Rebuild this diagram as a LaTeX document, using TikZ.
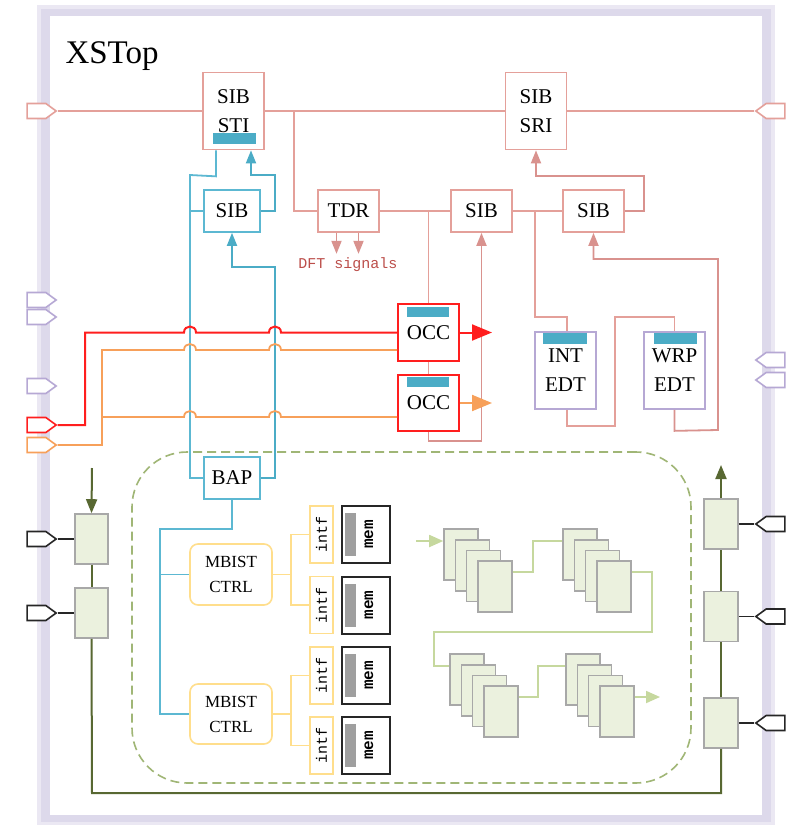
\documentclass[tikz,border=0pt]{standalone}
\usepackage{fontspec}
\setmainfont{Liberation Serif}
\setmonofont{Liberation Mono}
\usetikzlibrary{shapes.symbols, arrows.meta, calc}
\definecolor{framelav}{RGB}{221, 217, 235}
\definecolor{sibred}{RGB}{228, 160, 154}
\definecolor{sibtipred}{RGB}{217, 146, 142}
\definecolor{dftred}{RGB}{188, 78, 74}
\definecolor{barteal}{RGB}{75, 172, 198}
\definecolor{blueline}{RGB}{92, 184, 210}
\definecolor{occred}{RGB}{255, 30, 30}
\definecolor{clkorange}{RGB}{247, 160, 90}
\definecolor{edtpurple}{RGB}{182, 168, 212}
\definecolor{ctrlyellow}{RGB}{255, 222, 140}
\definecolor{cellfill}{RGB}{235, 241, 222}
\definecolor{cellgray}{RGB}{168, 168, 168}
\definecolor{chainlight}{RGB}{198, 216, 158}
\definecolor{scanolive}{RGB}{88, 104, 50}
\definecolor{dashgreen}{RGB}{160, 182, 118}
\newcommand\labelfont{\fontsize{21}{29}\selectfont}
\newcommand\ctrlfont{\fontsize{17}{25}\selectfont}

\begin{document}
\begin{tikzpicture}[x=1pt, y=-1pt,
  sibbox/.style={draw=sibred, line width=1.7pt, fill=white, inner sep=0pt, align=center, font=\labelfont, minimum width=61, minimum height=42},
  bluebox/.style={draw=blueline, line width=1.7pt, fill=white, inner sep=0pt, font=\labelfont, minimum width=56, minimum height=42},
  occbox/.style={draw=occred, line width=2pt, fill=white, inner sep=0pt, font=\labelfont, minimum width=61, minimum height=57},
  edtbox/.style={draw=edtpurple, line width=1.7pt, fill=white, inner sep=0pt, align=center, font=\labelfont, minimum width=61, minimum height=77},
  ctrlbox/.style={draw=ctrlyellow, line width=1.6pt, rounded corners=8pt, fill=white, inner sep=0pt, align=center, font=\ctrlfont, minimum width=82, minimum height=61},
  intfbox/.style={draw=ctrlyellow, line width=1.6pt, fill=white, inner sep=0pt, font=\fontsize{15}{15}\ttfamily, minimum width=23, minimum height=57},
  membox/.style={draw=black!85, line width=2pt, fill=white, inner sep=0pt, font=\fontsize{16}{16}\ttfamily\bfseries, minimum width=48, minimum height=57},
  cellbox/.style={draw=cellgray, line width=1.6pt, fill=cellfill, inner sep=0pt, minimum width=34, minimum height=51},
  pinright/.style={signal, signal to=east, signal pointer angle=72, draw, line width=1.6pt, fill=white, inner sep=0pt, minimum width=29, minimum height=15},
  pinleft/.style={signal, signal to=west, signal pointer angle=72, draw, line width=1.6pt, fill=white, inner sep=0pt, minimum width=29, minimum height=15},
  sibline/.style={draw=sibred, line width=1.8pt},
  siblink/.style={sibline, -{Triangle[width=10pt,length=13pt]}, sibtipred},
  bline/.style={draw=blueline, line width=1.8pt},
  blink/.style={bline, -{Triangle[width=10pt,length=13pt]}, barteal},
  scanline/.style={draw=scanolive, line width=2pt},
  chainline/.style={draw=chainlight, line width=1.8pt},
  ctrlline/.style={draw=ctrlyellow, line width=1.7pt},
  ioline/.style={draw=black!85, line width=1.8pt}
]
  \useasboundingbox (0,0) rectangle (805,825);
  \fill[framelav!60] (37,5) rectangle (775,825);
  \fill[framelav] (41,9) rectangle (771,822);
  \fill[white] (50,16) rectangle (762,815);

  \node[anchor=base west, font=\fontsize{33}{33}\selectfont] (title) at (62,63) {XSTop};

  \node[draw=dashgreen, dash pattern=on 9pt off 5pt, line width=1.6pt, rounded corners=55pt, minimum width=559, minimum height=331] (mbistzone) at (411.5,617.5) {};

  % scan-in / scan-out
  \node[pinright, draw=sibred] (tdi) at (36.5,111) {};
  \node[pinleft, draw=sibred] (tdo) at (775.5,111) {};
  \node[sibbox, minimum height=77] (sti) at (233.5,111) {SIB\\STI};
  \node[sibbox, minimum height=77] (sri) at (536,111) {SIB\\SRI};
  \node[bluebox] (sibb) at (232,211) {SIB};
  \node[sibbox] (tdr) at (348.5,211) {TDR};
  \node[sibbox] (sibc) at (481.5,211) {SIB};
  \node[sibbox] (sibd) at (593.5,211) {SIB};
  \node[font=\fontsize{15}{15}\ttfamily, text=dftred] (dft) at (348,265) {DFT signals};
  \node[occbox] (occa) at (428.5,332.5) {\raisebox{-4pt}{OCC}};
  \node[occbox, minimum height=56] (occb) at (428.5,403) {\raisebox{-4pt}{OCC}};
  \node[edtbox] (intedt) at (565.5,370.5) {INT\\EDT};
  \node[edtbox] (wrpedt) at (674.5,370.5) {WRP\\EDT};
  \node[bluebox] (bap) at (232,478) {BAP};

  \fill[barteal] (213,133) rectangle (256,144);
  \fill[barteal] (407,307) rectangle (449,317);
  \fill[barteal] (407,377) rectangle (449,387);
  \fill[barteal] (543,333) rectangle (587,344);
  \fill[barteal] (654,333) rectangle (697,344);

  \node[pinright, draw=edtpurple] (pa) at (36.5,300) {};
  \node[pinright, draw=edtpurple] (pb) at (36.5,317) {};
  \node[pinright, draw=edtpurple] (pc) at (36.5,386) {};
  \node[pinleft, draw=edtpurple] (pd) at (775.5,360) {};
  \node[pinleft, draw=edtpurple] (pe) at (775.5,380) {};
  \node[pinright, draw=occred] (clka) at (36.5,425) {};
  \node[pinright, draw=clkorange] (clkb) at (36.5,445) {};

  \draw[sibline] (tdi.east) -- (sti.west);
  \draw[sibline] (sti.east) -- (sri.west);
  \draw[sibline] (sri.east) -- (tdo.west);
  \draw[sibline] (294,111) |- (tdr.west);
  \draw[siblink] ([xshift=-12pt]tdr.south) -- ++(0,21);
  \draw[siblink] ([xshift=10pt]tdr.south) -- ++(0,21);
  \draw[sibline] (tdr.east) -- (sibc.west);
  \draw[sibline] (occa.north |- tdr.east) -- (occa.north);
  \draw[sibline] (occa.south) -- (occb.north);
  \draw[siblink] (occb.south) -- ++(0,9) -| (sibc.south);
  \draw[sibline] (sibc.east) -- (sibd.west);
  \draw[sibline] (535,211) |- (567,317) -- (intedt.north -| 567,0);
  \draw[sibline] (intedt.south -| 567,0) -- (567,426) -- (615,426) -- (615,317) -| (wrpedt.north);
  \draw[siblink] (wrpedt.south) -- ++(0,21) -- (718,430) -- (718,259) -| (sibd.south);
  \draw[siblink] (sibd.east) -- (644,211) -- (644,176) -| (sri.south);

  \draw[bline] ([xshift=-17.5pt]sti.south) -- ++(0,26) -- (190,175) -- (190,478) -- (bap.west);
  \draw[bline] (190,211) -- (sibb.west);
  \draw[blink] (sibb.east) -- (275,211) -- (275,175) -- (251,175) -- ([xshift=17.5pt]sti.south);
  \draw[blink] (bap.east) -- (275,478) -- (275,267) -| (sibb.south);

  \draw[draw=occred, line width=2pt] (clka.east) -- (85,425) -- (85,332.5) -- (184,332.5) .. controls (184,324.5) and (196,324.5) .. (196,332.5) -- (269,332.5) .. controls (269,324.5) and (281,324.5) .. (281,332.5) -- (occa.west);
  \draw[draw=clkorange, line width=1.8pt] (clkb.east) -- (102,445) -- (102,350) -- (184,350) .. controls (184,342) and (196,342) .. (196,350) -- (269,350) .. controls (269,342) and (281,342) .. (281,350) -- (occa.west |- 0,350);
  \draw[draw=clkorange, line width=1.8pt] (102,417) -- (184,417) .. controls (184,409) and (196,409) .. (196,417) -- (269,417) .. controls (269,409) and (281,409) .. (281,417) -- (occb.west |- 0,417);
  \draw[draw=occred, line width=2pt, -{Triangle[width=16pt,length=20pt]}] (occa.east) -- ++(32,0);
  \draw[draw=clkorange, line width=2pt, -{Triangle[width=16pt,length=20pt]}] (occb.east) -- ++(32,0);

  % memory BIST
  \node[ctrlbox] (ctrla) at (231,574.5) {MBIST\\CTRL};
  \node[ctrlbox, minimum height=60] (ctrlb) at (231,714) {MBIST\\CTRL};
  \foreach \y/\i in {534.5/1, 605/2, 675.5/3, 745.5/4} {
    \node[intfbox] (intf\i) at (321.5,\y) {\rotatebox{90}{intf}};
    \node[membox] (mem\i) at (366,\y) {\hspace*{6pt}\rotatebox{90}{mem}};
    \fill[gray!75] ($(mem\i.north west)+(4,8)$) rectangle ($(mem\i.south west)+(15,-8)$);
  }
  \draw[bline] (bap.south) -- (232,529) -- (160,529) -- (160,714) -- (ctrlb.west);
  \draw[bline] (160,574.5) -- (ctrla.west);
  \draw[ctrlline] (intf1.west) -- ++(-18,0) |- (ctrla.east);
  \draw[ctrlline] (intf2.west) -- ++(-18,0) |- (ctrla.east);
  \draw[ctrlline] (intf3.west) -- ++(-18,0) |- (ctrlb.east);
  \draw[ctrlline] (intf4.west) -- ++(-18,0) |- (ctrlb.east);

  % scan chains
  \foreach \sx/\sy/\nm in {444/529/sa, 563/529/sb, 450/654/sc, 566/654/sd} {
    \foreach \k in {0,...,3}
      \node[cellbox] (\nm\k) at ({\sx+17+\k*11.3},{\sy+25.5+\k*10.7}) {};
  }
  \coordinate (chin) at (416,541);
  \draw[chainline, -{Triangle[width=12pt,length=14pt]}] (chin) -- (chin -| sa0.west);
  \draw[chainline] (sa3.east |- 0,572) -- (533,572) -- (533,541) -- (sb0.west |- 0,541);
  \draw[chainline] (sb3.east |- 0,572) -- (652,572) -- (652,632) -- (434,632) -- (434,666) -- (sc0.west |- 0,666);
  \draw[chainline] (sc3.east |- 0,697) -- (538,697) -- (538,666) -- (sd0.west |- 0,666);
  \draw[chainline, -{Triangle[width=12pt,length=14pt]}] (sd3.east |- 0,697) -- (660,697);

  % boundary scan
  \node[cellbox, minimum width=33, minimum height=50] (bsa) at (91.5,539) {};
  \node[cellbox, minimum width=33, minimum height=50] (bsb) at (91.5,613) {};
  \node[cellbox, minimum height=50] (bsc) at (721,524) {};
  \node[cellbox, minimum height=50] (bsd) at (721,616.5) {};
  \node[cellbox, minimum height=50] (bse) at (721,723) {};
  \node[pinright, draw=black!85] (ioa) at (36.5,539) {};
  \node[pinright, draw=black!85] (iob) at (36.5,613) {};
  \node[pinleft, draw=black!85] (ioc) at (775.5,524) {};
  \node[pinleft, draw=black!85] (iod) at (775.5,616.5) {};
  \node[pinleft, draw=black!85] (ioe) at (775.5,723) {};
  \coordinate (bsin) at (92,468);
  \coordinate (bsout) at (721,465);
  \draw[ioline] (ioa.east) -- (bsa.west);
  \draw[ioline] (iob.east) -- (bsb.west);
  \draw[ioline] (bsc.east) -- (ioc.west);
  \draw[ioline] (bsd.east) -- (iod.west);
  \draw[ioline] (bse.east) -- (ioe.west);
  \draw[scanline, -{Triangle[width=11pt,length=14pt]}, scanolive] (bsin) -- (bsa.north);
  \draw[scanline] (bsa.south) -- (bsb.north);
  \draw[scanline] (bsb.south) -- (92,793) -| (bse.south);
  \draw[scanline] (bse.north) -- (bsd.south);
  \draw[scanline] (bsd.north) -- (bsc.south);
  \draw[scanline, -{Triangle[width=11pt,length=14pt]}, scanolive] (bsc.north) -- (bsout);
\end{tikzpicture}
\end{document}
